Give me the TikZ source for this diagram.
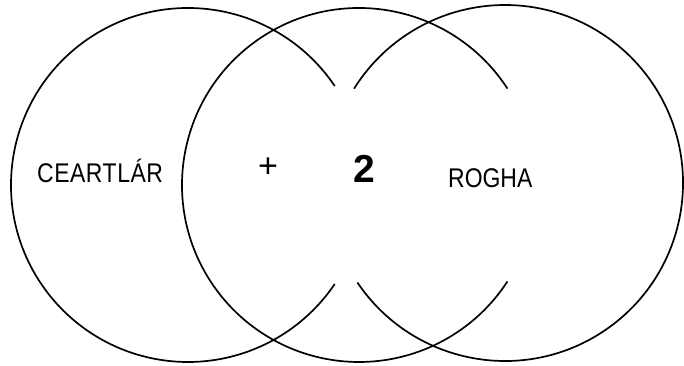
\documentclass[tikz,border=0pt]{standalone}
\usepackage{fontspec}
\setmainfont{Liberation Sans}
\newfontfamily\narrowfont[FakeStretch=0.85]{Liberation Sans}
\usetikzlibrary{positioning}

\begin{document}
\begin{tikzpicture}[
  x=1pt, y=1pt,
  ring/.style={line width=1.7pt},
  lbl/.style={inner sep=0pt, font=\narrowfont\fontsize{27}{30}\selectfont},
  sym/.style={inner sep=0pt, font=\fontsize{39}{40}\selectfont\bfseries},
]
\useasboundingbox (0,0) rectangle (684,365);
\coordinate (cl) at (188,180);
\coordinate (cm) at (359,180);
\coordinate (cr) at (505,182);
% three rings, each left open where it meets the next one
\draw[ring] (cl) ++(34:177) arc[start angle=34, end angle=326, radius=177];
\draw[ring] (cm) ++(33:177) arc[start angle=33, end angle=327, radius=177];
\draw[ring] (cr) ++(-146:178) arc[start angle=-146, end angle=148, radius=178];
\node[lbl, anchor=base west] (centre) at (37,183) {\addfontfeature{LetterSpace=2}CEARTLÁR};
\node[inner sep=0pt, font=\fontsize{34}{36}\selectfont] (plus) at (268,197) {+};
\node[sym, anchor=base] (two) at (364,183) {2};
\node[lbl, anchor=base west] (choice) at (448,178) {ROGHA};
\end{tikzpicture}
\end{document}
